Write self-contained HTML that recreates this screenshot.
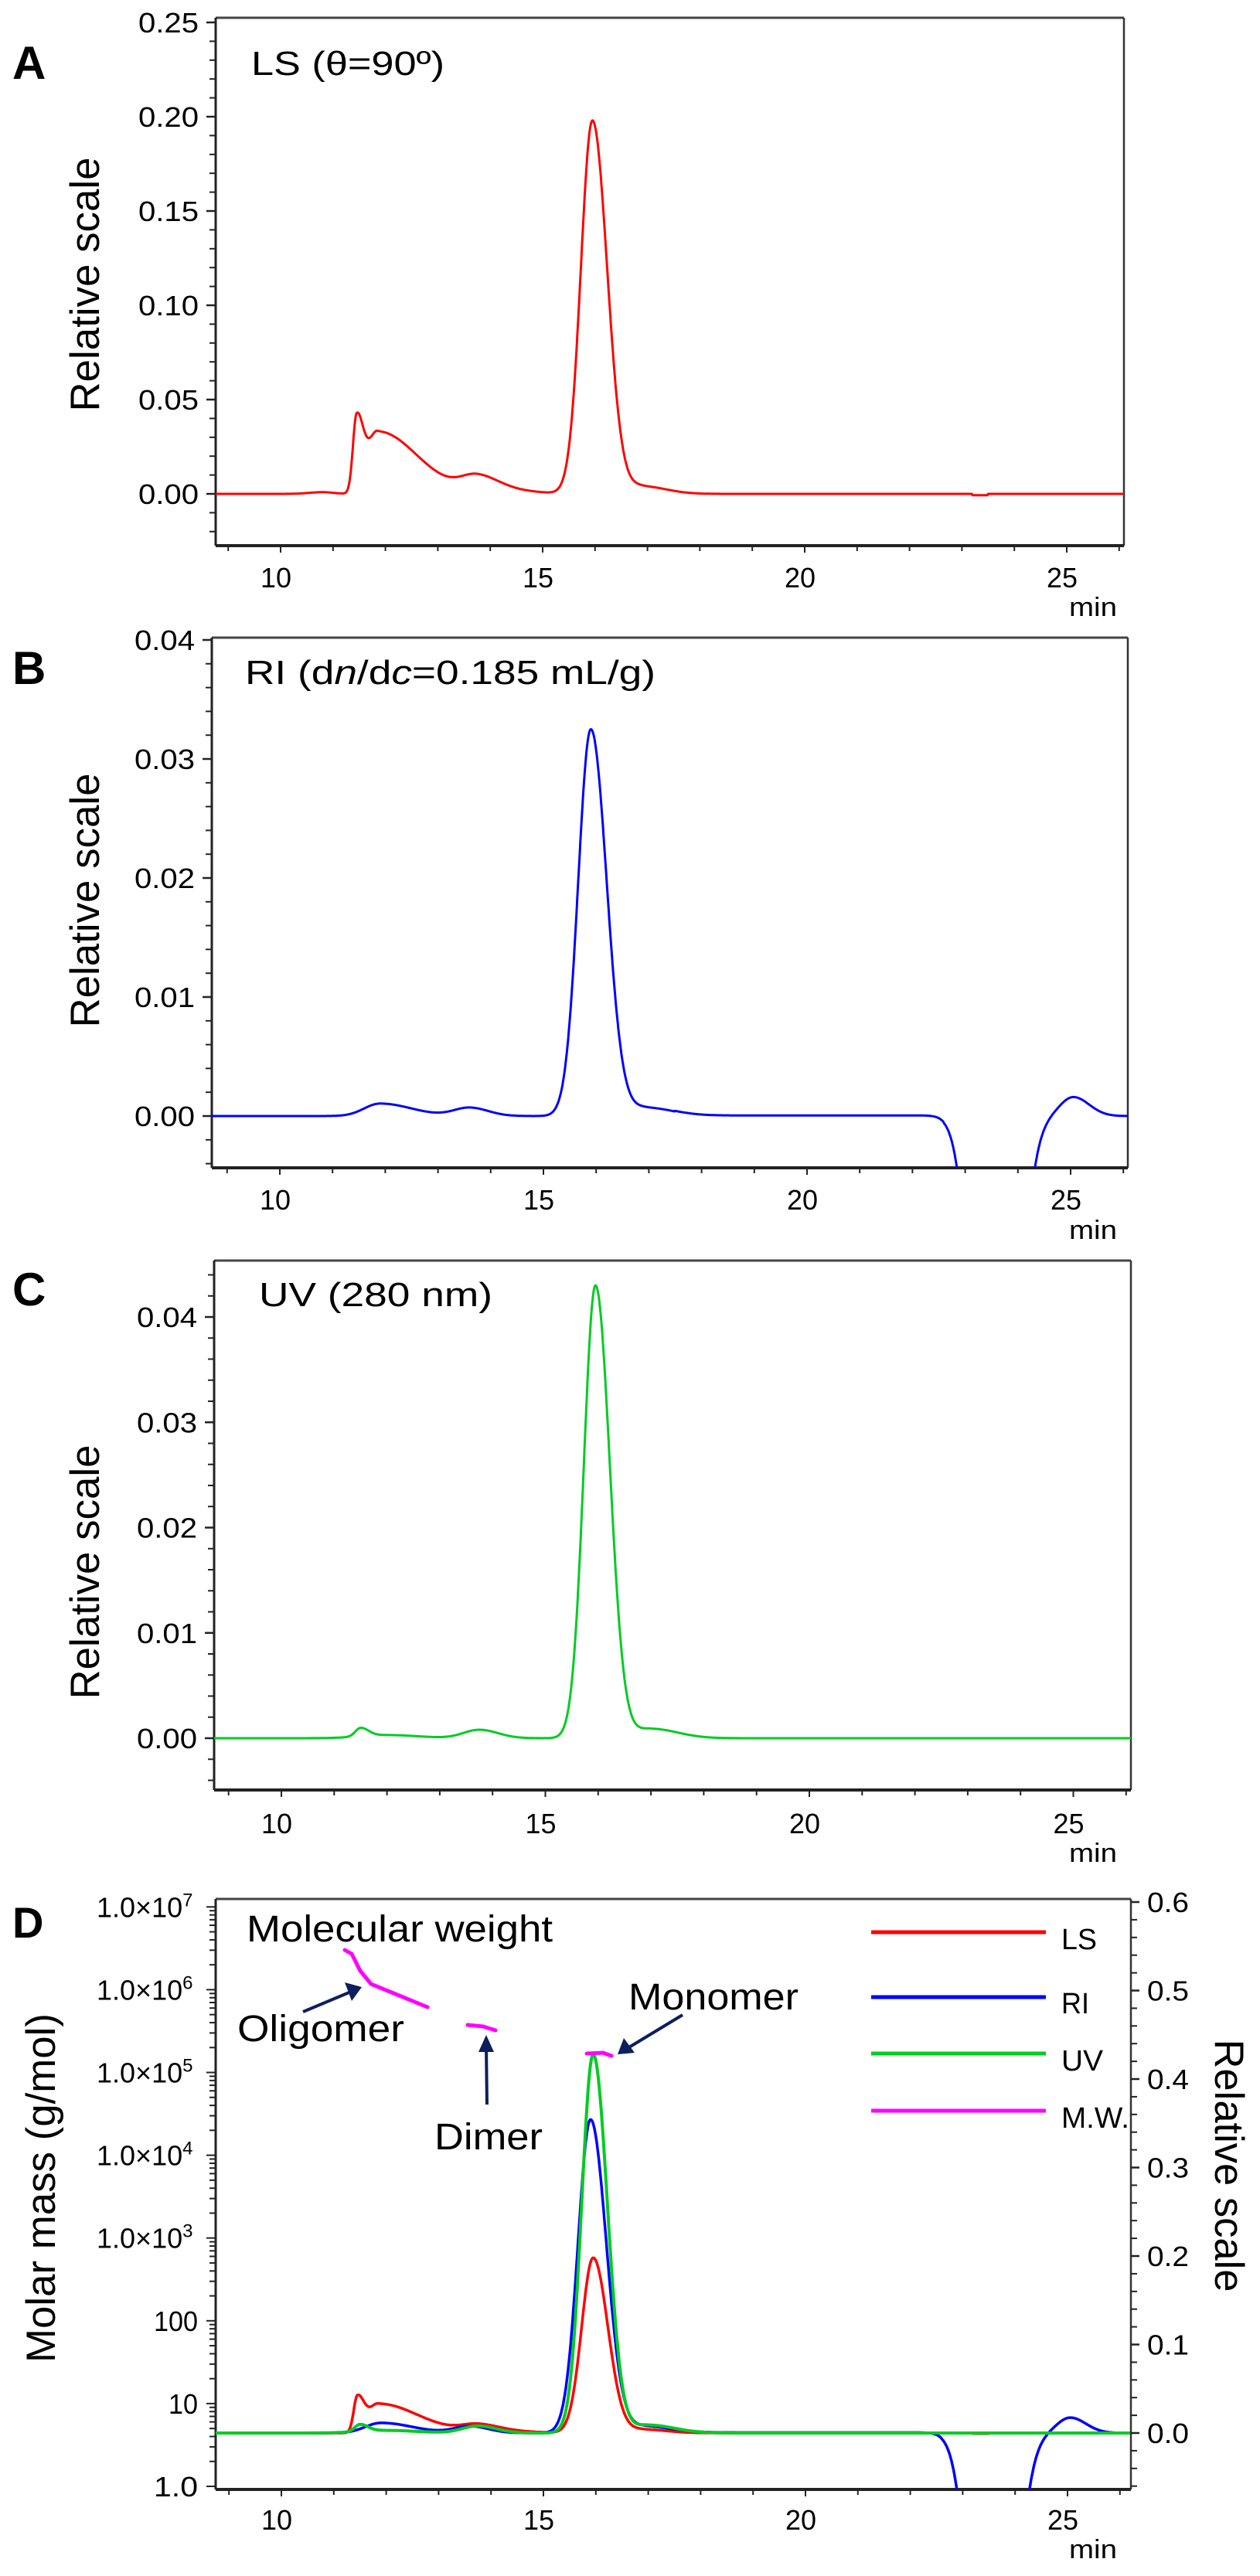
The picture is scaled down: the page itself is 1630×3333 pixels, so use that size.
<!DOCTYPE html>
<html><head><meta charset="utf-8">
<style>
html,body{margin:0;padding:0;background:#fff;width:1630px;height:3333px;overflow:hidden;}
svg{display:block;}
text{font-family:"Liberation Sans",Arial,sans-serif;fill:#000;}
</style></head>
<body>
<svg id="s" width="1630" height="3333" viewBox="0 0 1630 3333" xmlns="http://www.w3.org/2000/svg">
<defs>
<clipPath id="cA"><rect x="279" y="23" width="1175" height="683"/></clipPath>
<clipPath id="cB"><rect x="274" y="825" width="1185" height="686"/></clipPath>
<clipPath id="cC"><rect x="277" y="1631" width="1186" height="685"/></clipPath>
<clipPath id="cD"><rect x="279" y="2457" width="1184" height="764"/></clipPath>
</defs>

<text x="16" y="102" font-size="60" font-weight="bold">A</text>
<text x="16" y="885" font-size="60" font-weight="bold">B</text>
<text x="16" y="1689" font-size="60" font-weight="bold">C</text>
<text x="16" y="2507" font-size="56" font-weight="bold">D</text>

<text x="325" y="97" font-size="44" textLength="250" lengthAdjust="spacingAndGlyphs">LS (θ=90º)</text>
<text x="317" y="885" font-size="44" textLength="531" lengthAdjust="spacingAndGlyphs">RI (d<tspan font-style="italic">n</tspan>/d<tspan font-style="italic">c</tspan>=0.185 mL/g)</text>
<text x="335" y="1690" font-size="44" textLength="302" lengthAdjust="spacingAndGlyphs">UV (280 nm)</text>

<text transform="translate(128,368) rotate(-90)" text-anchor="middle" font-size="53" textLength="329" lengthAdjust="spacingAndGlyphs">Relative scale</text>
<text transform="translate(128,1165) rotate(-90)" text-anchor="middle" font-size="53" textLength="329" lengthAdjust="spacingAndGlyphs">Relative scale</text>
<text transform="translate(128,2034) rotate(-90)" text-anchor="middle" font-size="53" textLength="329" lengthAdjust="spacingAndGlyphs">Relative scale</text>
<text transform="translate(71,2831) rotate(-90)" text-anchor="middle" font-size="53" textLength="452" lengthAdjust="spacingAndGlyphs">Molar mass (g/mol)</text>
<text transform="translate(1572,2802) rotate(90)" text-anchor="middle" font-size="53" textLength="327" lengthAdjust="spacingAndGlyphs">Relative scale</text>

<text x="319" y="2512" font-size="48" textLength="396" lengthAdjust="spacingAndGlyphs">Molecular weight</text>
<text x="307" y="2641" font-size="48" textLength="216" lengthAdjust="spacingAndGlyphs">Oligomer</text>
<text x="562" y="2781" font-size="48" textLength="140" lengthAdjust="spacingAndGlyphs">Dimer</text>
<text x="813" y="2600" font-size="48" textLength="220" lengthAdjust="spacingAndGlyphs">Monomer</text>
<g stroke="#0d1f5c" stroke-width="4" fill="none">
<line x1="392" y1="2603" x2="454" y2="2577"/>
<line x1="630" y1="2723" x2="629" y2="2648"/>
<line x1="883" y1="2607" x2="812" y2="2650"/>
</g>
<g fill="#0d1f5c">
<polygon points="468,2571 446,2565 455,2589"/>
<polygon points="629,2633 619,2655 639,2655"/>
<polygon points="799,2658 807,2637 821,2656"/>
</g>

<g stroke-width="5">
<line x1="1127" y1="2500" x2="1353" y2="2500" stroke="#ff0000"/>
<line x1="1127" y1="2584" x2="1353" y2="2584" stroke="#0000ff"/>
<line x1="1127" y1="2657" x2="1353" y2="2657" stroke="#00cc22"/>
<line x1="1127" y1="2731" x2="1353" y2="2731" stroke="#ff00ff"/>
</g>
<text x="1373" y="2522" font-size="38" textLength="46" lengthAdjust="spacingAndGlyphs">LS</text>
<text x="1373" y="2605" font-size="38" textLength="36" lengthAdjust="spacingAndGlyphs">RI</text>
<text x="1373" y="2679" font-size="38" textLength="54" lengthAdjust="spacingAndGlyphs">UV</text>
<text x="1373" y="2753" font-size="38" textLength="88" lengthAdjust="spacingAndGlyphs">M.W.</text>

<g id="dyn"></g>
</svg>
<script>
var NS="http://www.w3.org/2000/svg",G=document.getElementById("dyn");
function el(t,a,txt){var e=document.createElementNS(NS,t);for(var k in a)e.setAttribute(k,a[k]);if(txt!=null)e.textContent=txt;G.appendChild(e);return e;}
function ag(t,m,sl,sr,h){var s=t<m?sl:sr;return h*Math.exp(-(t-m)*(t-m)/(2*s*s));}
function LS(t,noStep){var v=ag(t,11.45,0.07,0.13,0.04)+ag(t,11.85,0.18,0.75,0.033)+ag(t,13.75,0.3,0.4,0.0075)+ag(t,14.2,1,0.6,0.002)+ag(t,15.95,0.22,0.28,0.198)+ag(t,16.9,0.25,0.45,0.004);
 if(!noStep)v+=ag(t,10.8,0.25,0.2,0.0009);
 if(t>23.2&&t<23.5)v-=0.0007;return v;}
function RI(t){return ag(t,11.9,0.3,0.6,0.00105)+ag(t,13.6,0.3,0.35,0.0007)+ag(t,15.9,0.24,0.3,0.0325)+ag(t,16.95,0.3,0.5,0.0007)+(t>17.5&&t<22.6?0.00005:0)+ag(t,23.55,0.32,0.35,-0.05)+ag(t,25.05,0.25,0.3,0.0016);}
function UV(t){return ag(t,11.5,0.1,0.15,0.0008)+ag(t,12.0,0.5,0.6,0.0003)+ag(t,13.75,0.3,0.35,0.0008)+ag(t,15.95,0.22,0.27,0.043)+ag(t,17.0,0.3,0.5,0.0009);}
function path(f,x0,px,y0,py,t1,t2,col,w,clip){var d="";for(var t=t1;t<=t2;t+=0.01){var x=x0+(t-10)*px,y=y0-f(t)*py;d+=(d?"L":"M")+x.toFixed(1)+","+y.toFixed(1);}
 el("path",{d:d,stroke:col,"stroke-width":w,fill:"none","clip-path":"url(#"+clip+")","stroke-linejoin":"round"});}
function frame(L,T,R,B){el("line",{x1:L,y1:T,x2:R,y2:T,stroke:"#444","stroke-width":3});el("line",{x1:R,y1:T,x2:R,y2:B,stroke:"#333","stroke-width":2.5});
 el("line",{x1:L,y1:B,x2:R,y2:B,stroke:"#222","stroke-width":4});el("line",{x1:L,y1:T,x2:L,y2:B,stroke:"#222","stroke-width":3});}
function xaxis(x0,px,L,R,B,lab,minY){for(var t=9;t<=26;t++){var x=x0+(t-10)*px;if(x<L||x>R)continue;el("line",{x1:x,y1:B,x2:x,y2:B+(t%5==0?9:7),stroke:"#222","stroke-width":2});}
 [10,15,20,25].forEach(function(t){el("text",{x:x0+(t-10)*px-6,y:lab,"font-size":36,"text-anchor":"middle",textLength:40,lengthAdjust:"spacingAndGlyphs"},String(t));});
 el("text",{x:1383,y:minY,"font-size":34,textLength:62,lengthAdjust:"spacingAndGlyphs"},"min");}
function yaxis(L,T,B,y0,pu,step,major,dec){for(var v=-1;v<=1;v+=step){var y=y0-v*pu;if(y<T-1||y>B+1)continue;el("line",{x1:L-8,y1:y,x2:L,y2:y,stroke:"#222","stroke-width":2});}
 major.forEach(function(v){var y=y0-v*pu;el("line",{x1:L-12,y1:y,x2:L,y2:y,stroke:"#222","stroke-width":2.5});el("text",{x:L-22,y:y+13,"font-size":36,"text-anchor":"end",textLength:78,lengthAdjust:"spacingAndGlyphs"},v.toFixed(dec));});}
frame(279,23,1454,706);yaxis(279,23,706,639,2440,0.01,[0,0.05,0.1,0.15,0.2,0.25],2);xaxis(363,67.8,279,1454,706,760,797);
path(function(t){return LS(t);},363,67.8,639,2440,8.7,26.2,"#ff0000",3,"cA");
frame(274,825,1459,1511);yaxis(274,825,1511,1444,15400,0.002,[0,0.01,0.02,0.03,0.04],2);xaxis(362,68.2,274,1459,1511,1565,1603);
path(RI,362,68.2,1444,15400,8.7,26.2,"#0000ff",3,"cB");
frame(277,1631,1463,2316);yaxis(277,1631,2316,2249,13625,0.002,[0,0.01,0.02,0.03,0.04],2);xaxis(364,68.3,277,1463,2316,2372,2409);
path(UV,364,68.3,2249,13625,8.7,26.2,"#00cc22",3,"cC");
frame(279,2457,1463,3221);xaxis(364,67.8,279,1463,3221,3273,3310);
for(var v=-0.06;v<=0.61;v+=0.02){var y=3148-v*1145;if(y<2457||y>3221)continue;el("line",{x1:1463,y1:y,x2:1471,y2:y,stroke:"#222","stroke-width":2});}
[0,0.1,0.2,0.3,0.4,0.5,0.6].forEach(function(v){var y=3148-v*1145;el("line",{x1:1463,y1:y,x2:1474,y2:y,stroke:"#222","stroke-width":2.5});el("text",{x:1484,y:y+13,"font-size":36,textLength:54,lengthAdjust:"spacingAndGlyphs"},v.toFixed(1));});
function ly(m){return 3217-107.1*Math.log10(m);}
for(var e=0;e<7;e++){for(var k=1;k<10;k++){var y=ly(k*Math.pow(10,e));if(y<2457)continue;el("line",{x1:k==1?267:271,y1:y,x2:279,y2:y,stroke:"#222","stroke-width":2});}}
el("line",{x1:267,y1:ly(1e7),x2:279,y2:ly(1e7),stroke:"#222","stroke-width":2});
["1.0","10","100"].forEach(function(s,i){el("text",{x:256,y:ly(Math.pow(10,i))+13,"font-size":36,"text-anchor":"end",textLength:s.length*19,lengthAdjust:"spacingAndGlyphs"},s);});
for(var e=3;e<=7;e++){var t=el("text",{x:125,y:ly(Math.pow(10,e))+13,"font-size":36});
 var a=document.createElementNS(NS,"tspan");a.textContent="1.0\u00d710";t.appendChild(a);
 var b=document.createElementNS(NS,"tspan");b.setAttribute("dy","-14");b.setAttribute("font-size","24");b.textContent=String(e);t.appendChild(b);}
path(function(t){return LS(t,true);},364,67.8,3148,1145,10.5,26.2,"#ff0000",3.5,"cD");
path(function(t){return RI(t)*10.9;},364,67.8,3148,1145,8.7,26.1,"#0000ff",3.5,"cD");
path(function(t){return UV(t)*9.95;},364,67.8,3148,1145,8.7,26.2,"#00cc22",4,"cD");
el("path",{d:"M446,2523 L455,2528 L466,2550 L480,2567 L553,2597",stroke:"#ff00ff","stroke-width":5,fill:"none","stroke-linecap":"round"});
el("path",{d:"M605,2620 L625,2622 L641,2627",stroke:"#ff00ff","stroke-width":5,fill:"none","stroke-linecap":"round"});
el("path",{d:"M759,2657 L780,2656 L791,2660",stroke:"#ff00ff","stroke-width":5,fill:"none","stroke-linecap":"round"});
</script>
</body></html>
